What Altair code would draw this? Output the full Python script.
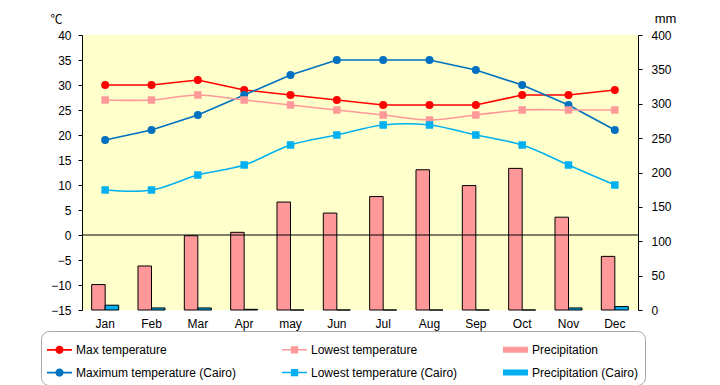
import altair as alt
import pandas as pd

months = ["Jan", "Feb", "Mar", "Apr", "may", "Jun", "Jul", "Aug", "Sep", "Oct", "Nov", "Dec"]
max_temp = [30, 30, 31, 29, 28, 27, 26, 26, 26, 28, 28, 29]
low_temp = [27, 27, 28, 27, 26, 25, 24, 23, 24, 25, 25, 25]
precip = [37, 64, 108, 113, 157, 141, 165, 204, 181, 206, 135, 78]
max_cairo = [19, 21, 24, 28, 32, 35, 35, 35, 33, 30, 26, 21]
low_cairo = [9, 9, 12, 14, 18, 20, 22, 22, 20, 18, 14, 10]
precip_cairo = [7, 3, 3, 1, 0, 0, 0, 0, 0, 0, 3, 5]

series_names = ["Max temperature", "Maximum temperature (Cairo)",
                "Lowest temperature", "Lowest temperature (Cairo)",
                "Precipitation", "Precipitation (Cairo)"]
series_colors = ["#FF0000", "#0070C0", "#FF9999", "#00B0F0", "#FF9999", "#00B0F0"]
temp_ticks = list(range(-15, 41, 5))
precip_ticks = list(range(0, 401, 50))

FONT = "Liberation Sans"

rows = []
for name, vals in [("Max temperature", max_temp), ("Lowest temperature", low_temp),
                   ("Maximum temperature (Cairo)", max_cairo), ("Lowest temperature (Cairo)", low_cairo)]:
    for m, v in zip(months, vals):
        rows.append({"month": m, "series": name, "value": v})
temp_df = pd.DataFrame(rows)

prow = []
for name, vals in [("Precipitation", precip), ("Precipitation (Cairo)", precip_cairo)]:
    for m, v in zip(months, vals):
        prow.append({"month": m, "series": name, "value": v})
precip_df = pd.DataFrame(prow)
zero_df = pd.DataFrame({"zero": [0]})

color_scale = alt.Scale(domain=series_names, range=series_colors)
x_scale = alt.Scale(type="band", domain=months, paddingInner=0.417, paddingOuter=0.2085)
x_axis = alt.Axis(title=None, domain=False, ticks=False, labelAngle=0, labelPadding=8,
                  labelFont=FONT, labelFontSize=12, labelColor="black")
x_enc = alt.X("month:N", sort=months, scale=x_scale, axis=x_axis)


def tscale():
    return alt.Scale(domain=[-15, 40], nice=False, zero=False)


P_CIRC = ("M-1,-0.07H1V0.07H-1Z "
          "M-0.33,0A0.33,0.33 0 1,1 0.33,0A0.33,0.33 0 1,1 -0.33,0Z")
P_SQ = "M-1,-0.06H1V0.06H-1Z M-0.29,-0.29H0.29V0.29H-0.29Z"
P_RECT = "M-1,-0.24H1V0.24H-1Z"
shape_range = [P_CIRC, P_CIRC, P_SQ, P_SQ, P_RECT, P_RECT]

legend = alt.Legend(
    title=None, orient="none", legendX=-41, legendY=296, columns=3,
    symbolSize=625, symbolOpacity=1, symbolStrokeWidth=0,
    labelFont=FONT, labelFontSize=12, labelColor="black", labelOffset=4, labelLimit=300,
    columnPadding=45, rowPadding=4, padding=6,
    strokeColor="#A6A6A6", fillColor="white", cornerRadius=8,
)

bars = alt.Chart(precip_df).mark_bar(stroke="black", strokeWidth=1).encode(
    x=x_enc,
    xOffset=alt.XOffset("series:N", sort=["Precipitation", "Precipitation (Cairo)"],
                        scale=alt.Scale(domain=["Precipitation", "Precipitation (Cairo)"],
                                        paddingInner=0, paddingOuter=0)),
    y=alt.Y("value:Q", scale=alt.Scale(domain=[0, 400], nice=False),
            axis=alt.Axis(orient="right", values=precip_ticks, title="mm", grid=False,
                          tickSize=4, tickColor="black", domainColor="black", labelPadding=9,
                          labelFont=FONT, labelFontSize=12, labelColor="black",
                          titleAngle=0, titleX=27, titleY=-17, titleAlign="center",
                          titleBaseline="middle", titleFont=FONT, titleFontSize=13,
                          titleFontWeight="normal", titleColor="black")),
    color=alt.Color("series:N", scale=color_scale),
)

y_temp_axis = alt.Axis(orient="left", values=temp_ticks, title="℃", grid=False,
                       tickSize=4, tickColor="black", domainColor="black", labelPadding=7,
                       labelFont=FONT, labelFontSize=12, labelColor="black",
                       titleAngle=0, titleX=-26, titleY=-16, titleAlign="center",
                       titleBaseline="middle", titleFont="Noto Sans CJK JP", titleFontSize=12,
                       titleFontWeight="normal", titleColor="black")

main_names = ["Max temperature", "Maximum temperature (Cairo)"]
low_names = ["Lowest temperature", "Lowest temperature (Cairo)"]

base = alt.Chart(temp_df)
lines_main = base.transform_filter(alt.FieldOneOfPredicate(field="series", oneOf=main_names)).mark_line(
    strokeWidth=1.6).encode(
    x=x_enc, y=alt.Y("value:Q", scale=tscale(), axis=y_temp_axis),
    color=alt.Color("series:N", scale=color_scale), detail="series:N")
lines_low = base.transform_filter(alt.FieldOneOfPredicate(field="series", oneOf=low_names)).mark_line(
    strokeWidth=1.6, interpolate="catmull-rom").encode(
    x=x_enc, y=alt.Y("value:Q", scale=tscale(), axis=None),
    color=alt.Color("series:N", scale=color_scale), detail="series:N")
circles = base.transform_filter(alt.FieldOneOfPredicate(field="series", oneOf=main_names)).mark_circle(
    size=64, opacity=1).encode(
    x=x_enc, y=alt.Y("value:Q", scale=tscale(), axis=None),
    color=alt.Color("series:N", scale=color_scale))
squares = base.transform_filter(alt.FieldOneOfPredicate(field="series", oneOf=low_names)).mark_square(
    size=56, opacity=1).encode(
    x=x_enc, y=alt.Y("value:Q", scale=tscale(), axis=None),
    color=alt.Color("series:N", scale=color_scale))
zero_rule = alt.Chart(zero_df).mark_rule(color="black", strokeWidth=1).encode(
    y=alt.Y("zero:Q", scale=tscale(), axis=None))
legend_layer = base.mark_point(filled=True, opacity=0).encode(
    x=x_enc, y=alt.Y("value:Q", scale=tscale(), axis=None),
    color=alt.Color("series:N", scale=color_scale, legend=legend),
    shape=alt.Shape("series:N", scale=alt.Scale(domain=series_names, range=shape_range), legend=legend))

chart = alt.layer(bars, lines_main, lines_low, circles, squares, zero_rule, legend_layer).resolve_scale(
    y="independent").properties(
    width=556, height=275,
    padding={"left": 74, "top": 27, "right": 52, "bottom": 75},
    autosize=alt.AutoSizeParams(type="none"),
    background="white",
).configure_view(fill="#FFFFCC", stroke=None)

chart.save("out.html", embed_options={"renderer": "svg", "actions": False})
